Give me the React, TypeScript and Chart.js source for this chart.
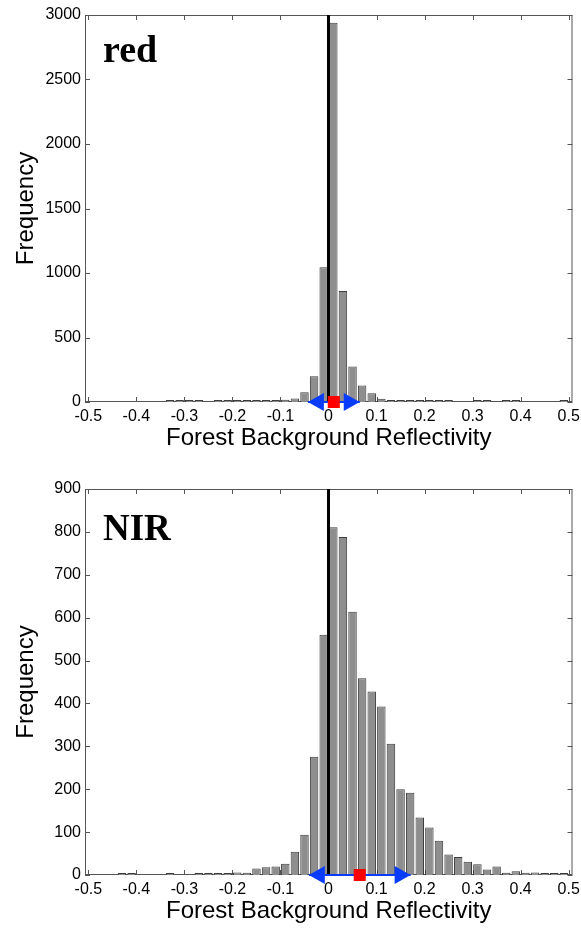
import React, { useEffect, useRef } from 'react';
import { Chart, registerables } from 'chart.js';

Chart.register(...registerables);

// ---- data ----
const binCenters = [
  -0.49, -0.47, -0.45, -0.43, -0.41, -0.39, -0.37, -0.35, -0.33, -0.31,
  -0.29, -0.27, -0.25, -0.23, -0.21, -0.19, -0.17, -0.15, -0.13, -0.11,
  -0.09, -0.07, -0.05, -0.03, -0.01, 0.01, 0.03, 0.05, 0.07, 0.09,
  0.11, 0.13, 0.15, 0.17, 0.19, 0.21, 0.23, 0.25, 0.27, 0.29,
  0.31, 0.33, 0.35, 0.37, 0.39, 0.41, 0.43, 0.45, 0.47, 0.49,
];

const redCounts = [
  0, 0, 0, 0, 0, 0, 0, 0, 2, 2,
  1, 2, 0, 2, 2, 3, 5, 3, 3, 8,
  18, 28, 75, 200, 1045, 2940, 860, 275, 128, 68,
  25, 15, 10, 8, 4, 3, 3, 3, 0, 0,
  2, 2, 0, 2, 2, 0, 0, 0, 0, 2,
];

const nirCounts = [
  0, 0, 0, 2, 1, 0, 0, 0, 2, 0,
  0, 2, 2, 2, 1, 6, 5, 15, 18, 20,
  26, 54, 94, 276, 560, 811, 788, 614, 459, 428,
  393, 306, 200, 192, 134, 111, 80, 48, 42, 31,
  25, 13, 20, 5, 9, 5, 6, 3, 4, 4,
];

const xTickValues = [-0.5, -0.4, -0.3, -0.2, -0.1, 0, 0.1, 0.2, 0.3, 0.4, 0.5];
const redYTicks = [0, 500, 1000, 1500, 2000, 2500, 3000];
const nirYTicks = [0, 100, 200, 300, 400, 500, 600, 700, 800, 900];

const redMean = 0.011;
const redStd = 0.054;
const nirMean = 0.065;
const nirStd = 0.106;

const X_MIN = -0.507;
const X_MAX = 0.508;

const SANS = '"Liberation Sans", Arial, sans-serif';
const SERIF = '"Liberation Serif", "Times New Roman", serif';

type PanelProps = {
  name: string;
  counts: number[];
  yTicks: number[];
  mean: number;
  std: number;
  top: number;
  height: number;
  areaTop: number;
  nameBaseline: number;
  nameSize: number;
};

function Panel(props: PanelProps) {
  const ref = useRef<HTMLCanvasElement | null>(null);

  useEffect(() => {
    const canvas = ref.current;
    if (!canvas) return;
    const { name, counts, yTicks, mean, std, areaTop, nameBaseline, nameSize } = props;
    const yMax = yTicks[yTicks.length - 1];
    const xAxisH = 53;

    const framePlugin = {
      id: 'frameAndTicks',
      beforeDatasetsDraw(chart: any) {
        const { ctx, chartArea } = chart;
        const { left, right, top, bottom } = chartArea;
        const xs = chart.scales.x;
        const ys = chart.scales.y;
        ctx.save();
        ctx.strokeStyle = '#555555';
        ctx.lineWidth = 1;
        ctx.strokeRect(left + 0.5, top + 0.5, right - left - 1, bottom - top - 1);
        ctx.beginPath();
        xTickValues.forEach((v) => {
          const px = Math.round(xs.getPixelForValue(v)) + 0.5;
          ctx.moveTo(px, bottom);
          ctx.lineTo(px, bottom - 5);
          ctx.moveTo(px, top);
          ctx.lineTo(px, top + 5);
        });
        yTicks.forEach((v) => {
          const py = Math.round(ys.getPixelForValue(v)) + 0.5;
          ctx.moveTo(left, py);
          ctx.lineTo(left + 5, py);
          ctx.moveTo(right, py);
          ctx.lineTo(right - 5, py);
        });
        ctx.stroke();
        // panel name
        ctx.fillStyle = '#000000';
        ctx.font = `bold ${nameSize}px ${SERIF}`;
        ctx.textAlign = 'left';
        ctx.textBaseline = 'alphabetic';
        ctx.fillText(name, left + 18, top + nameBaseline);
        ctx.restore();
      },
      afterDatasetDraw(chart: any, args: any) {
        if (args.index !== 1) return;
        const meta = chart.getDatasetMeta(1);
        const pts = meta.data;
        if (!pts || pts.length < 2) return;
        const ctx = chart.ctx;
        ctx.save();
        ctx.fillStyle = '#0a3cff';
        const tri = (x: number, y: number, dir: number) => {
          ctx.beginPath();
          ctx.moveTo(x, y);
          ctx.lineTo(x - dir * 16, y - 9);
          ctx.lineTo(x - dir * 16, y + 9);
          ctx.closePath();
          ctx.fill();
        };
        tri(pts[0].x, pts[0].y, -1);
        tri(pts[1].x, pts[1].y, 1);
        ctx.restore();
      },
    };

    const chart = new Chart(canvas, {
      type: 'bar',
      data: {
        datasets: [
          {
            type: 'line',
            label: 'mean',
            data: [{ x: mean, y: 0 }],
            showLine: false,
            pointStyle: 'rect',
            pointRadius: 8.5,
            pointBackgroundColor: '#ff0000',
            pointBorderColor: '#ff0000',
            pointBorderWidth: 0,
            order: 0,
            clip: false,
          } as any,
          {
            type: 'line',
            label: 'spread',
            data: [
              { x: mean - std, y: 0 },
              { x: mean + std, y: 0 },
            ],
            borderColor: '#0a3cff',
            borderWidth: 2,
            pointRadius: 0,
            order: 1,
            clip: false,
          } as any,
          {
            type: 'line',
            label: 'zero',
            data: [
              { x: 0, y: 0 },
              { x: 0, y: yMax },
            ],
            borderColor: '#000000',
            borderWidth: 3,
            pointRadius: 0,
            order: 2,
          } as any,
          {
            type: 'bar',
            label: 'counts',
            data: binCenters.map((c, i) => ({ x: c, y: counts[i] === 0 ? null : counts[i] })),
            backgroundColor: '#8e8e8e',
            borderColor: '#3c3c3c',
            borderWidth: 1,
            barPercentage: 0.88,
            categoryPercentage: 1,
            minBarLength: 2,
            order: 3,
          } as any,
        ],
      },
      options: {
        responsive: false,
        maintainAspectRatio: false,
        animation: false,
        events: [],
        layout: { padding: { top: areaTop, right: 5, left: 0, bottom: 0 } },
        plugins: {
          legend: { display: false },
          tooltip: { enabled: false },
        },
        scales: {
          x: {
            type: 'linear',
            min: X_MIN,
            max: X_MAX,
            offset: false,
            grid: { display: false, drawTicks: false },
            border: { display: false },
            ticks: {
              color: '#000000',
              font: { family: SANS, size: 16 },
              padding: 5,
              maxRotation: 0,
              autoSkip: false,
              callback: (v: any) => (Math.abs(Number(v)) < 1e-9 ? '0' : Number(v).toFixed(1)),
            },
            afterBuildTicks: (s: any) => {
              s.ticks = xTickValues.map((v) => ({ value: v }));
            },
            afterFit: (s: any) => {
              s.height = xAxisH;
              s.paddingLeft = 0;
              s.paddingRight = 0;
            },
            title: {
              display: true,
              text: 'Forest Background Reflectivity',
              color: '#000000',
              font: { family: SANS, size: 24 },
              padding: { top: 0, bottom: 2 },
            },
          },
          y: {
            type: 'linear',
            min: 0,
            max: yMax,
            grid: { display: false, drawTicks: false },
            border: { display: false },
            ticks: {
              color: '#000000',
              font: { family: SANS, size: 16 },
              padding: 4,
              callback: (v: any) => String(v),
            },
            afterBuildTicks: (s: any) => {
              s.ticks = yTicks.map((v) => ({ value: v }));
            },
            afterFit: (s: any) => {
              s.width = 85;
              s.paddingTop = 0;
              s.paddingBottom = 0;
            },
            title: {
              display: true,
              text: 'Frequency',
              color: '#000000',
              font: { family: SANS, size: 24 },
              padding: { top: 12, bottom: 0 },
            },
          },
        },
      } as any,
      plugins: [framePlugin as any],
    });

    return () => {
      chart.destroy();
    };
  }, []);

  return (
    <div style={{ position: 'absolute', left: 0, top: props.top, width: 581, height: props.height }}>
      <canvas ref={ref} width={581} height={props.height} style={{ display: 'block' }} />
    </div>
  );
}

export default function App() {
  return (
    <div style={{ position: 'absolute', left: 0, top: 0, width: 581, height: 928, background: '#ffffff', overflow: 'hidden' }}>
      <Panel
        name="red"
        counts={redCounts}
        yTicks={redYTicks}
        mean={redMean}
        std={redStd}
        top={0}
        height={455}
        areaTop={15}
        nameBaseline={47}
        nameSize={38}
      />
      <Panel
        name="NIR"
        counts={nirCounts}
        yTicks={nirYTicks}
        mean={nirMean}
        std={nirStd}
        top={455}
        height={473}
        areaTop={34}
        nameBaseline={51}
        nameSize={37}
      />
    </div>
  );
}
